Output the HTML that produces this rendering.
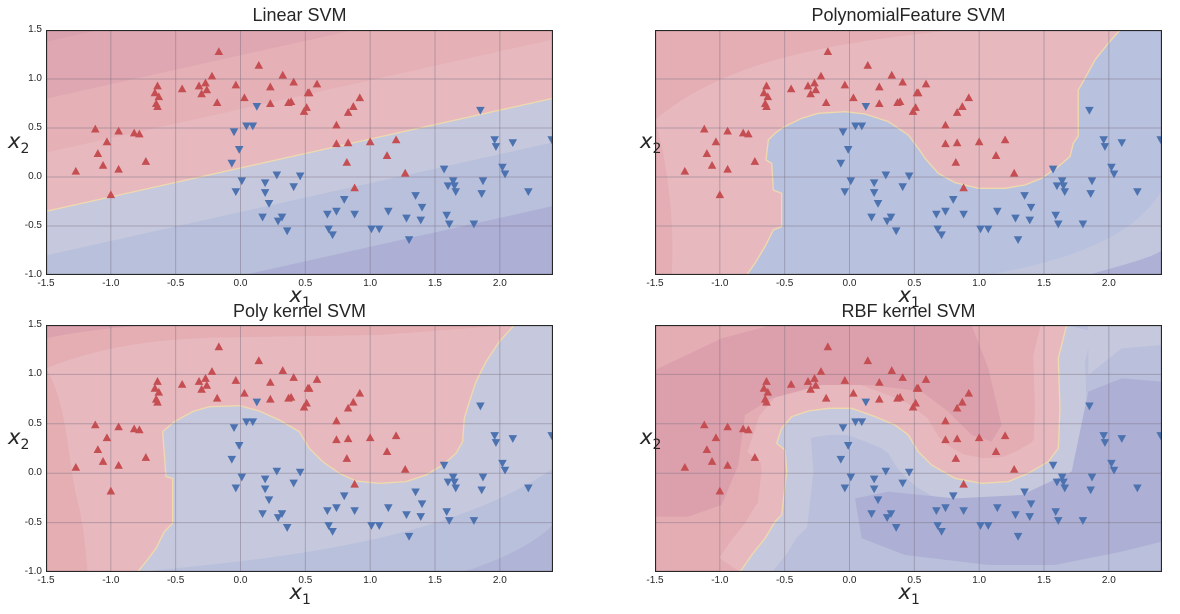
<!DOCTYPE html>
<html><head><meta charset="utf-8"><style>
body{margin:0;background:#fff;width:1180px;height:614px;overflow:hidden;position:relative;font-family:"Liberation Sans",sans-serif}
.t{position:absolute;font-size:18px;color:#262626;text-align:center;width:507px}
.lab{position:absolute;font-family:"DejaVu Sans",sans-serif;font-style:italic;font-size:21px;color:#262626}
.lab sub{font-size:14px;font-style:normal}
svg.p{position:absolute;overflow:hidden}
.tick{position:absolute;font-size:10px;color:#262626}
</style></head><body>
<div class="t" style="left:46px;top:5px">Linear SVM</div>
<div class="t" style="left:655px;top:5px">PolynomialFeature SVM</div>
<div class="t" style="left:46px;top:301px">Poly kernel SVM</div>
<div class="t" style="left:655px;top:301px">RBF kernel SVM</div>
<div id="root"></div>
<script>
const redX=[-0.167,0.141,-0.22,0.326,0.41,-0.036,-0.32,-0.27,-0.26,-0.30,-0.45,-0.64,-0.66,-0.63,-0.65,-0.64,-0.18,0.03,0.23,0.23,0.37,0.39,0.49,-1.12,-0.94,-0.82,-0.78,-1.03,-1.10,-1.06,-1.27,-0.94,-0.73,-1.0,0.59,0.52,0.53,0.92,0.51,0.87,0.83,0.74,0.74,0.83,1.0,1.2,1.13,0.82,1.27,0.88];
const redY=[1.28,1.14,1.03,1.04,0.97,0.94,0.93,0.96,0.89,0.85,0.90,0.93,0.86,0.82,0.75,0.72,0.76,0.81,0.92,0.75,0.76,0.77,0.67,0.49,0.47,0.45,0.44,0.36,0.24,0.12,0.06,0.08,0.16,-0.18,0.95,0.86,0.86,0.81,0.71,0.72,0.66,0.53,0.34,0.35,0.36,0.38,0.22,0.15,0.04,-0.11];
const blueX=[0.126,-0.05,0.046,0.095,-0.01,-0.067,0.01,-0.036,0.19,0.19,0.28,0.41,0.46,0.22,0.17,0.29,0.32,0.36,1.85,1.96,1.97,2.10,2.40,2.02,2.04,1.57,1.64,1.60,1.65,1.66,1.87,1.86,2.22,1.35,1.40,0.80,0.67,0.74,0.88,1.14,1.28,1.39,1.59,1.61,1.80,0.68,0.71,1.01,1.07,1.30];
const blueY=[0.72,0.46,0.52,0.52,0.28,0.14,-0.04,-0.15,-0.06,-0.16,0.02,-0.10,0.01,-0.27,-0.41,-0.45,-0.41,-0.55,0.68,0.38,0.31,0.35,0.38,0.10,0.03,0.08,-0.04,-0.09,-0.09,-0.15,-0.04,-0.17,-0.15,-0.19,-0.31,-0.23,-0.38,-0.35,-0.38,-0.35,-0.42,-0.44,-0.39,-0.48,-0.48,-0.53,-0.59,-0.53,-0.53,-0.64];
const xTicks=[-1.5,-1.0,-0.5,0.0,0.5,1.0,1.5,2.0];
const yTicks=[-1.0,-0.5,0.0,0.5,1.0,1.5];
const XMIN=-1.5,XMAX=2.41,YMIN=-1,YMAX=1.5;
const NS='http://www.w3.org/2000/svg';
const root=document.getElementById('root');
function mk(tag,attrs,parent){const e=document.createElementNS(NS,tag);for(const k in attrs)e.setAttribute(k,attrs[k]);if(parent)parent.appendChild(e);return e;}
const B2=[[275,735],[300,700],[330,650],[355,600],[380,590],[380,490],[355,480],[350,400],[333,390],[340,330],[360,310],[385,292],[440,265],[490,250],[570,245],[630,252],[700,275],[760,315],[790,355],[810,385],[850,430],[900,458],[970,475],[1050,475],[1110,465],[1160,445],[1210,410],[1245,380],[1255,340],[1270,318],[1270,180],[1290,145],[1320,90],[1360,40],[1395,0]];
const B3=[[275,741],[300,710],[330,670],[355,620],[380,595],[380,460],[360,455],[350,320],[385,290],[440,260],[490,245],[580,242],[640,258],[700,285],[760,320],[790,370],[830,410],[880,445],[930,468],[1000,475],[1080,470],[1140,450],[1190,420],[1230,385],[1250,350],[1255,280],[1275,215],[1290,170],[1320,110],[1360,50],[1405,0]];
const B4=[[255,741],[290,690],[330,640],[360,590],[380,570],[395,440],[390,375],[365,355],[380,310],[410,275],[460,258],[520,250],[590,250],[660,275],[720,300],[760,330],[790,380],[830,420],[900,460],[980,475],[1060,470],[1120,445],[1180,410],[1210,370],[1215,250],[1210,100],[1225,40],[1235,0]];
const pts=a=>a.map(p=>p.join(',')).join(' ');
const panels=[
 {id:'linear',L:46,T:30,H:245,ylabels:true},
 {id:'polyfeature',L:655,T:30,H:245,ylabels:false,B:B2},
 {id:'polykernel',L:46,T:325,H:247,ylabels:true,B:B3},
 {id:'rbf',L:655,T:325,H:247,ylabels:false,B:B4}];
const W=507;
panels.forEach((P,pi)=>{
 const sx=x=>(x-XMIN)/(XMAX-XMIN)*W, sy=y=>(YMAX-y)/(YMAX-YMIN)*P.H;
 const svg=mk('svg',{class:'p',width:W,height:P.H,style:`left:${P.L}px;top:${P.T}px`},null);
 
 
 root.appendChild(svg);
 const bg=mk('g',{},svg);
 
 
 if(pi===0){
  const band=(d)=>{const c=0.0925+d;return [[sx(-1.6),sy(0.295*-1.6+c)],[sx(2.5),sy(0.295*2.5+c)]];};
  const lvls=[[-9,'#adafd5'],[-1.1,'#b8c0dc'],[-0.45,'#c6c9dd'],[0,'#e7b8be'],[0.6,'#e5b0b6'],[1.15,'#dfa7b1'],[1.73,'#d9a0ae']];
  lvls.forEach((l,i)=>{const a=band(Math.max(l[0],-4));mk('polygon',{points:pts([[a[0][0],-50],[a[1][0],-50],a[1],a[0]]),fill:l[1]},bg);});
  const a=band(0);mk('line',{x1:a[0][0],y1:a[0][1],x2:a[1][0],y2:a[1][1],stroke:'#efd9ad','stroke-width':1.3},bg);
 } else {
  const g=mk('g',{transform:'scale(0.3333)'},bg);
  const Hz=P.H*3;
  const redPoly=pts([[0,0]].concat(P.B.slice().reverse()).concat([[0,Hz]]));
  const clipR='cr'+pi, clipB='cb'+pi;
  const d=mk('defs',{},g);
  const c1=mk('clipPath',{id:clipR},d);mk('polygon',{points:redPoly},c1);
  const c2=mk('clipPath',{id:clipB},d);mk('polygon',{points:pts(P.B.concat([[1600,0],[1600,Hz+20],[0,Hz+20]]))},c2);
  const blueBase=pi===1?'#b8c1dd':(pi===2?'#c6c9dd':'#bac0db');
  mk('rect',{x:0,y:0,width:1521,height:Hz,fill:blueBase},g);
  const gr=mk('g',{'clip-path':`url(#${clipR})`},g);
  mk('rect',{x:0,y:0,width:1521,height:Hz,fill:pi===3?'#e4adb3':'#e7b9bf'},gr);
  if(pi===1){mk('path',{d:'M0,270 C200,100 500,40 900,0 L0,0Z',fill:'#e4aeb4'},gr);mk('path',{d:'M0,270 C40,400 60,600 50,735 L0,735Z',fill:'#e4aeb4'},gr);}
  if(pi===2){
   mk('path',{d:'M0,130 C150,70 300,45 500,38 L1000,30 L1400,0 L0,0Z',fill:'#e4aeb3'},gr);
   mk('path',{d:'M0,130 C70,250 60,400 100,550 C120,650 120,700 125,741 L0,741Z',fill:'#e4aeb3'},gr);
   mk('path',{d:'M0,40 C150,10 250,5 320,0 L0,0Z',fill:'#dca2ae'},gr);
  }
  if(pi===3){
   mk('polyline',{points:pts(P.B),fill:'none',stroke:'#e7b9bf','stroke-width':150},gr);
   mk('path',{d:'M0,135 L200,40 L350,0 L950,0 L1000,130 L1040,300 L1010,350 L950,330 L880,260 L800,200 L650,180 L500,180 L350,220 L270,270 L250,420 L200,540 L100,575 L0,575Z',fill:'#dca0ad'},gr);
  }
  const gb=mk('g',{'clip-path':`url(#${clipB})`},g);
  if(pi===2){mk('path',{d:'M280,741 C700,700 1200,650 1521,430 L1521,741Z',fill:'#b9c0dc'},gb);mk('path',{d:'M1250,741 C1380,700 1470,650 1521,600 L1521,741Z',fill:'#b0b4d6'},gb);}
  if(pi===1){mk('path',{d:'M1000,735 C1300,680 1450,600 1521,480 L1521,735Z',fill:'#c2c7de'},gb);mk('path',{d:'M1300,735 C1420,700 1500,680 1521,660 L1521,735Z',fill:'#aeb0d5'},gb);}
  if(pi===3){mk('polyline',{points:pts(P.B),fill:'none',stroke:'#c6c9dd','stroke-width':160},gb);mk('path',{d:'M1300,0 L1521,0 L1521,60 L1400,70 L1300,150Z',fill:'#c6c9dd'},gb);mk('path',{d:'M600,520 L700,500 L900,520 L1100,510 L1250,440 L1300,200 L1400,160 L1521,170 L1521,650 L1400,680 L1200,720 L1000,720 L750,690 L620,640Z',fill:'#adb0d4'},gb);}
  mk('polyline',{points:pts(P.B),fill:'none',stroke:'#efd9ad','stroke-width':4},g);
 }
 xTicks.forEach(t=>{const l=mk('line',{x1:sx(t),x2:sx(t),y1:0,y2:P.H,stroke:'#7a6f80','stroke-opacity':0.45,'stroke-width':1},svg);});
 yTicks.forEach(t=>{const l=mk('line',{y1:sy(t),y2:sy(t),x1:0,x2:W,stroke:'#7a6f80','stroke-opacity':0.45,'stroke-width':1},svg);});
 redX.forEach((x,i)=>{const cx=sx(x),cy=sy(redY[i]);const m=mk('polygon',{points:`${cx-4.3},${cy+3.5} ${cx+4.3},${cy+3.5} ${cx},${cy-4.3}`,fill:'#c44e52'},svg);});
 blueX.forEach((x,i)=>{const cx=sx(x),cy=sy(blueY[i]);const m=mk('polygon',{points:`${cx-4.3},${cy-3.5} ${cx+4.3},${cy-3.5} ${cx},${cy+4.3}`,fill:'#4c72b0'},svg);});
 const fr=mk('rect',{x:0.5,y:0.5,width:W-1,height:P.H-1,fill:'none',stroke:'#262626','stroke-width':1.2},svg);
 
 xTicks.forEach(t=>{const d=document.createElement('div');d.className='tick';d.textContent=t.toFixed(1);d.style.left=(P.L+sx(t)-12)+'px';d.style.width='24px';d.style.textAlign='center';d.style.top=(P.T+P.H+3)+'px';
  root.appendChild(d);});
 if(P.ylabels) yTicks.forEach(t=>{const d=document.createElement('div');d.className='tick';d.textContent=t.toFixed(1);d.style.left=(P.L-34)+'px';d.style.width='30px';d.style.textAlign='right';d.style.top=(P.T+sy(t)-6)+'px';
  root.appendChild(d);});
 const xl=document.createElement('div');xl.className='lab';xl.innerHTML='x<sub>1</sub>';xl.style.left=(P.L+W/2-10)+'px';xl.style.top=(P.T+P.H+8)+'px';
 root.appendChild(xl);
 const yl=document.createElement('div');yl.className='lab';yl.innerHTML='x<sub>2</sub>';yl.style.left=(P.ylabels?8:640)+'px';yl.style.top=(P.T+P.H/2-24)+'px';
 root.appendChild(yl);
});
</script>
</body></html>
